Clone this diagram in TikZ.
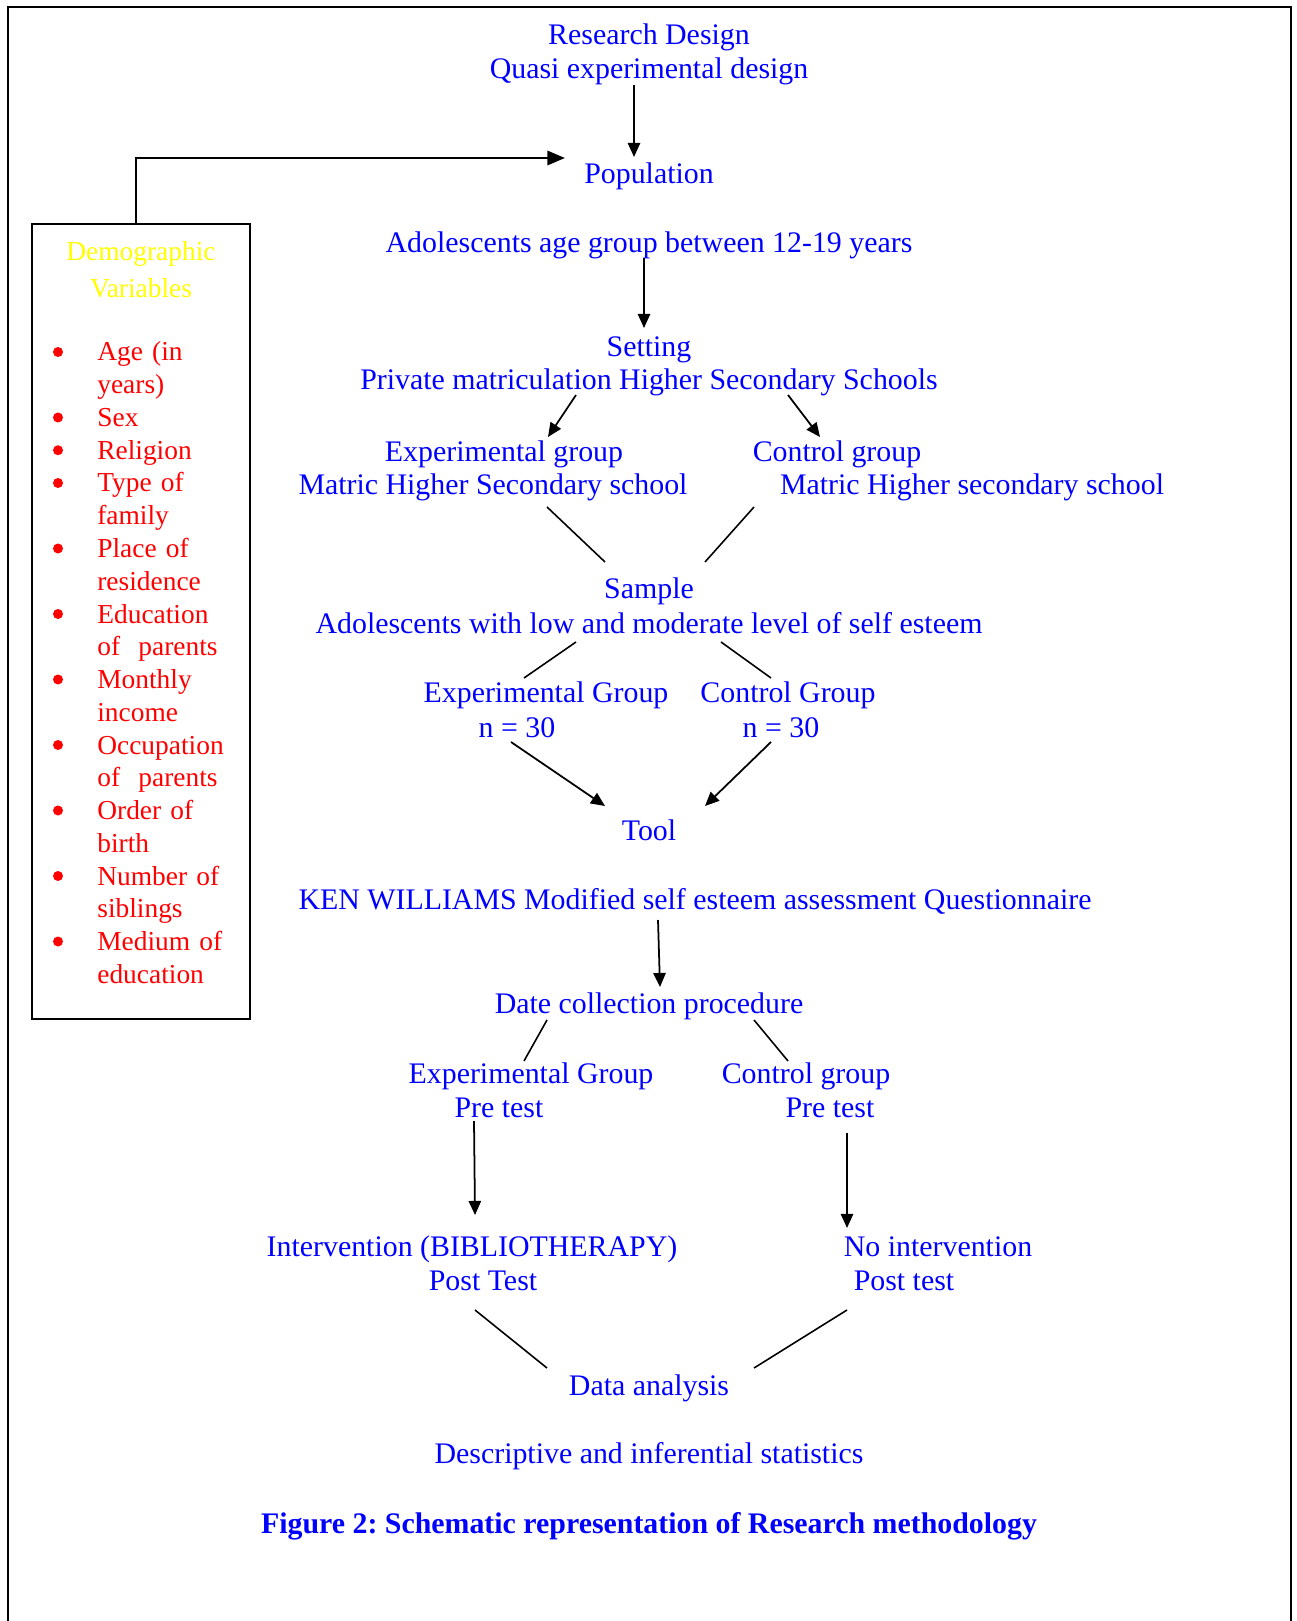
\documentclass[tikz,border=0pt]{standalone}
\usepackage{fontspec}
\setmainfont{Liberation Serif}
\usepackage{tikz}
\usetikzlibrary{arrows.meta,positioning}
\definecolor{dsblue}{RGB}{0,0,255}
\definecolor{dsred}{RGB}{255,0,0}
\definecolor{dsyellow}{RGB}{255,255,0}
\frenchspacing
\newcommand{\mainsz}{\fontsize{17}{19.3}\selectfont}
\newcommand{\boxsz}{\fontsize{15.6}{18.5}\selectfont}
\tikzset{
  txt/.style={text=dsblue, font=\mainsz, inner sep=0pt, anchor=base},
  ytxt/.style={text=dsyellow, font=\boxsz, inner sep=0pt, anchor=base},
  vtxt/.style={text=dsred, font=\boxsz, inner sep=0pt, anchor=base west, text width=3.2cm, align=left},
  vbox/.style={draw, line width=1.1pt, inner sep=0pt, minimum width=4.36cm, minimum height=15.9cm},
  arr/.style={-{Triangle[length=8pt,width=7pt]}, line width=1pt},
  barr/.style={-{Triangle[length=10pt,width=8pt]}, line width=1.6pt},
  ln/.style={line width=0.9pt},
}
\begin{document}
\begin{tikzpicture}[x=0.02cm, y=-0.02cm]
  \useasboundingbox (0,0) rectangle (1296,1621);
  % outer frame (open at the bottom)
  \draw[line width=1.1pt] (8,1621) -- (8,7) -- (1291,7) -- (1291,1621);

  % --- Demographic variables ---
  \node[vbox] (demo) at (141,621.5) {};
  \node[ytxt] (demo1) at (141,261) {Demographic};
  \node[ytxt] (demo2) at (141,298) {Variables};
  \foreach \k/\txt in {0/{Age (in\\years)}, 2/Sex, 3/Religion, 4/{Type of\\family},
      6/{Place of\\residence}, 8/{Education\\of~ parents}, 10/{Monthly\\income},
      12/{Occupation\\of~ parents}, 14/{Order of\\birth}, 16/{Number of\\siblings},
      18/{Medium of\\education}}{
    \fill[dsred] (58,{352+32.75*\k}) circle (5);
    \node[vtxt] (var\k) at (97,{361+32.75*\k}) {\txt};
  }

  % --- Main flow ---
  \node[txt] (design1) at (649,45) {Research Design};
  \node[txt] (design2) at (649,79) {Quasi experimental design};
  \node[txt] (pop) at (649,184) {Population};
  \node[txt] (popdesc) at (649,253) {Adolescents age group between 12-19 years};
  \node[txt] (set1) at (649,357) {Setting};
  \node[txt] (set2) at (649,390) {Private matriculation Higher Secondary Schools};
  \node[txt] (expg1) at (504,461) {Experimental group};
  \node[txt] (expg2) at (493,495) {Matric Higher Secondary school};
  \node[txt] (ctrg1) at (837,461) {Control group};
  \node[txt] (ctrg2) at (972,495) {Matric Higher secondary school};
  \node[txt] (samp1) at (649,598) {Sample};
  \node[txt] (samp2) at (649,633) {Adolescents with low and moderate level of self esteem};
  \node[txt] (expn1) at (546,702) {Experimental Group};
  \node[txt] (expn2) at (517,737) {n = 30};
  \node[txt] (ctrn1) at (788,702) {Control Group};
  \node[txt] (ctrn2) at (781,737) {n = 30};
  \node[txt] (tool) at (649,840) {Tool};
  \node[txt] (quest) at (695,909) {KEN WILLIAMS Modified self esteem assessment Questionnaire};
  \node[txt] (dcp) at (649,1013) {Date collection procedure};
  \node[txt] (expp1) at (531,1083) {Experimental Group};
  \node[txt] (expp2) at (499,1117) {Pre test};
  \node[txt] (ctrp1) at (806,1083) {Control group};
  \node[txt] (ctrp2) at (830,1117) {Pre test};
  \node[txt] (int1) at (472,1256) {Intervention (BIBLIOTHERAPY)};
  \node[txt] (int2) at (483,1290) {Post Test};
  \node[txt] (noint1) at (938,1256) {No intervention};
  \node[txt] (noint2) at (904,1290) {Post test};
  \node[txt] (anal) at (649,1395) {Data analysis};
  \node[txt] (stats) at (649,1463) {Descriptive and inferential statistics};
  \node[txt, font=\mainsz\bfseries] (caption) at (649,1533) {Figure 2: Schematic representation of Research methodology};

  % connector ends
  \coordinate (c1a) at (634,85);   \coordinate (c1b) at (634,157);
  \coordinate (c2) at (565,158);
  \coordinate (c3a) at (644,258);  \coordinate (c3b) at (644,328);
  \coordinate (c4a) at (576,395);  \coordinate (c4b) at (548,437);
  \coordinate (c5a) at (788,395);  \coordinate (c5b) at (820,437);
  \coordinate (c6a) at (547,507);  \coordinate (c6b) at (605,562);
  \coordinate (c7a) at (754,507);  \coordinate (c7b) at (705,562);
  \coordinate (c8a) at (576,642);  \coordinate (c8b) at (524,678);
  \coordinate (c9a) at (721,642);  \coordinate (c9b) at (771,678);
  \coordinate (c10a) at (511,742); \coordinate (c10b) at (605,806);
  \coordinate (c11a) at (771,742); \coordinate (c11b) at (705,806);
  \coordinate (c12a) at (658,920); \coordinate (c12b) at (660,987);
  \coordinate (c13a) at (547,1020); \coordinate (c13b) at (524,1061);
  \coordinate (c14a) at (754,1020); \coordinate (c14b) at (788,1061);
  \coordinate (c15a) at (474,1121); \coordinate (c15b) at (475,1215);
  \coordinate (c16a) at (847,1133); \coordinate (c16b) at (847,1228);
  \coordinate (c17a) at (475,1310); \coordinate (c17b) at (547,1368);
  \coordinate (c18a) at (847,1310); \coordinate (c18b) at (754,1368);

  % arrows and lines
  \draw[arr] (c1a) -- (c1b);
  \draw[barr] ([xshift=-0.1cm]demo.north) |- (c2);
  \draw[arr] (c3a) -- (c3b);
  \draw[arr] (c4a) -- (c4b);
  \draw[arr] (c5a) -- (c5b);
  \draw[ln] (c6a) -- (c6b);
  \draw[ln] (c7a) -- (c7b);
  \draw[ln] (c8a) -- (c8b);
  \draw[ln] (c9a) -- (c9b);
  \draw[arr] (c10a) -- (c10b);
  \draw[arr] (c11a) -- (c11b);
  \draw[arr] (c12a) -- (c12b);
  \draw[ln] (c13a) -- (c13b);
  \draw[ln] (c14a) -- (c14b);
  \draw[arr] (c15a) -- (c15b);
  \draw[arr] (c16a) -- (c16b);
  \draw[ln] (c17a) -- (c17b);
  \draw[ln] (c18a) -- (c18b);
\end{tikzpicture}
\end{document}
